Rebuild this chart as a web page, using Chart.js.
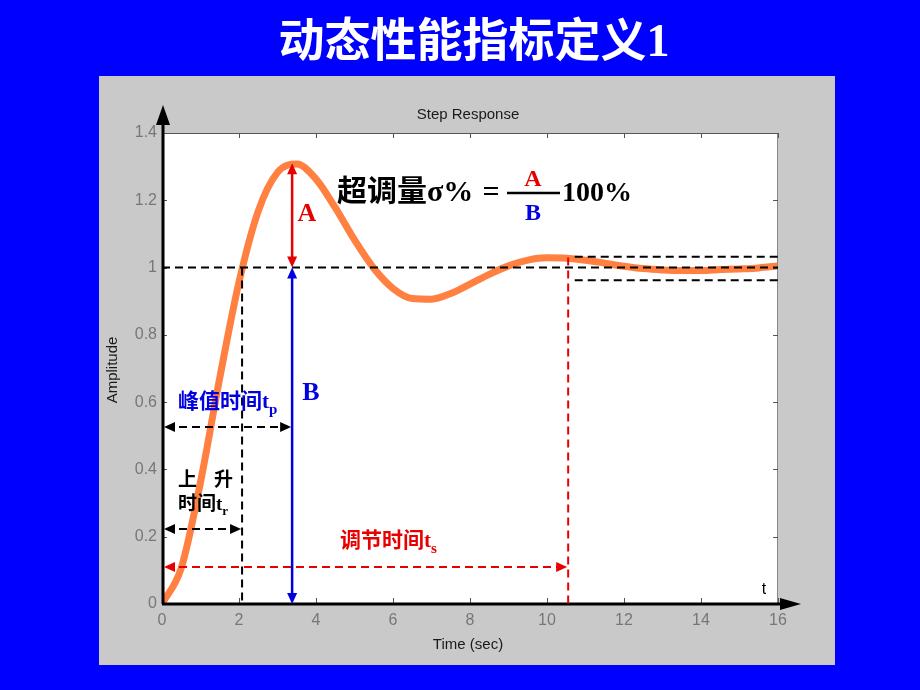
<!DOCTYPE html>
<html>
<head>
<meta charset="utf-8">
<script src="https://cdn.jsdelivr.net/npm/chart.js@4.4.1/dist/chart.umd.min.js"></script>
<style>
html, body { margin: 0; padding: 0; background: #0000ff; }
#wrap { width: 920px; height: 690px; }
</style>
</head>
<body>
<div id="wrap"><canvas id="stepChart" width="920" height="690"></canvas></div>
<script>
// step response
const times = [0, 0.5, 1, 1.5, 2, 2.5, 3, 3.5, 4, 4.5, 5, 5.5, 6, 6.5, 7, 7.5, 8, 8.5,
    9, 9.5, 10, 10.5, 11, 11.5, 12, 12.5, 13, 13.5, 14, 14.5, 15, 15.5, 16];
const amplitude = [0, 0.107, 0.362, 0.672, 0.957, 1.168, 1.283, 1.308, 1.263, 1.178,
    1.082, 0.998, 0.938, 0.908, 0.906, 0.923, 0.951, 0.980, 1.005, 1.022, 1.029,
    1.028, 1.022, 1.013, 1.004, 0.997, 0.993, 0.991, 0.991, 0.994, 0.996, 0.999, 1.005];

const xTicks = [0, 2, 4, 6, 8, 10, 12, 14, 16];
const yTicks = [0, 0.2, 0.4, 0.6, 0.8, 1, 1.2, 1.4];
const yTickLabels = ['0', '0.2', '0.4', '0.6', '0.8', '1', '1.2', '1.4'];

// marked times / levels
const riseTime = 2.08;
const peakTime = 3.38;
const peakValue = 1.31;
const settleTime = 10.55;
const bandHigh = 1.032;
const bandLow = 0.962;

const SERIF = '"Liberation Serif", "Noto Sans CJK SC", serif';
const SANS = 'Arial, "Liberation Sans", sans-serif';

function arrowHead(ctx, x, y, dir, color) {
    // dir: 'up' | 'down' | 'left' | 'right'
    const L = 11, W = 5;
    ctx.save();
    ctx.fillStyle = color;
    ctx.setLineDash([]);
    ctx.beginPath();
    ctx.moveTo(x, y);
    if (dir === 'up') { ctx.lineTo(x - W, y + L); ctx.lineTo(x + W, y + L); }
    if (dir === 'down') { ctx.lineTo(x - W, y - L); ctx.lineTo(x + W, y - L); }
    if (dir === 'left') { ctx.lineTo(x + L, y - W); ctx.lineTo(x + L, y + W); }
    if (dir === 'right') { ctx.lineTo(x - L, y - W); ctx.lineTo(x - L, y + W); }
    ctx.closePath();
    ctx.fill();
    ctx.restore();
}

function line(ctx, x0, y0, x1, y1, color, width, dash) {
    ctx.save();
    ctx.strokeStyle = color;
    ctx.lineWidth = width;
    ctx.setLineDash(dash || []);
    ctx.beginPath();
    ctx.moveTo(x0, y0);
    ctx.lineTo(x1, y1);
    ctx.stroke();
    ctx.restore();
}

function subText(ctx, main, sub, x, y, size, color) {
    ctx.save();
    ctx.fillStyle = color;
    ctx.textAlign = 'left';
    ctx.textBaseline = 'middle';
    ctx.font = 'bold ' + size + 'px ' + SERIF;
    ctx.fillText(main, x, y);
    const w = ctx.measureText(main).width;
    ctx.font = 'bold ' + Math.round(size * 0.7) + 'px ' + SERIF;
    ctx.fillText(sub, x + w, y + size * 0.35);
    ctx.restore();
}

const slide = {
    id: 'slide',
    beforeDraw(chart) {
        const ctx = chart.ctx;
        const a = chart.chartArea;
        ctx.save();
        ctx.fillStyle = '#0000ff';
        ctx.fillRect(0, 0, chart.width, chart.height);
        ctx.fillStyle = '#c9c9c9';
        ctx.fillRect(99, 76, 736, 589);
        ctx.fillStyle = '#ffffff';
        ctx.fillRect(a.left, a.top, a.right - a.left, a.bottom - a.top);

        ctx.fillStyle = '#ffffff';
        ctx.textAlign = 'center';
        ctx.textBaseline = 'middle';
        ctx.font = 'bold 46px ' + SERIF;
        ctx.fillText('动态性能指标定义1', 474, 44);

        ctx.fillStyle = '#1a1a1a';
        ctx.font = '15px ' + SANS;
        ctx.fillText('Step Response', 468, 115);
        ctx.fillText('Time (sec)', 468, 645);
        ctx.save();
        ctx.translate(113, 370);
        ctx.rotate(-Math.PI / 2);
        ctx.fillText('Amplitude', 0, 0);
        ctx.restore();
        ctx.restore();
    },
    afterDatasetsDraw(chart) {
        const ctx = chart.ctx;
        const a = chart.chartArea;
        const xs = chart.scales.x, ys = chart.scales.y;
        const px = v => xs.getPixelForValue(v);
        const py = v => ys.getPixelForValue(v);

        // box and inward ticks
        line(ctx, a.left, a.top + 0.5, a.right, a.top + 0.5, '#555', 1);
        line(ctx, a.right - 0.5, a.top, a.right - 0.5, a.bottom, '#888', 1);
        xTicks.forEach(v => {
            const x = Math.round(px(v)) + 0.5;
            line(ctx, x, a.top, x, a.top + 5, '#555', 1);
            line(ctx, x, a.bottom, x, a.bottom - 6, '#555', 1);
        });
        yTicks.forEach(v => {
            const y = Math.round(py(v)) + 0.5;
            line(ctx, a.left, y, a.left + 5, y, '#555', 1);
            line(ctx, a.right, y, a.right - 5, y, '#555', 1);
        });

        // axes with arrows
        line(ctx, a.left + 1, a.bottom, a.left + 1, 118, '#000', 3);
        ctx.save();
        ctx.fillStyle = '#000';
        ctx.beginPath();
        ctx.moveTo(a.left + 1, 105);
        ctx.lineTo(a.left - 6, 125);
        ctx.lineTo(a.left + 8, 125);
        ctx.closePath();
        ctx.fill();
        ctx.restore();
        line(ctx, a.left, a.bottom, 790, a.bottom, '#000', 3);
        ctx.save();
        ctx.fillStyle = '#000';
        ctx.beginPath();
        ctx.moveTo(801, a.bottom);
        ctx.lineTo(780, a.bottom - 6);
        ctx.lineTo(780, a.bottom + 6);
        ctx.closePath();
        ctx.fill();
        ctx.restore();

        const dash = [8, 5];
        const x0 = px(0), xr = px(riseTime), xp = px(peakTime), xs2 = px(settleTime);
        const y0 = py(0), y1 = py(1);

        // steady value and settling band
        line(ctx, x0, y1, a.right, y1, '#000', 2, dash);
        line(ctx, px(10.72), py(bandHigh), a.right + 3, py(bandHigh), '#000', 2, dash);
        line(ctx, px(10.72), py(bandLow), a.right + 3, py(bandLow), '#000', 2, dash);

        // rise time
        line(ctx, xr, y1, xr, y0, '#000', 2, dash);
        const yRise = py(0.223);
        line(ctx, x0 + 4, yRise, xr - 4, yRise, '#000', 2, dash);
        arrowHead(ctx, x0 + 2, yRise, 'left', '#000');
        arrowHead(ctx, xr - 1, yRise, 'right', '#000');

        // peak time
        const yPeak = py(0.526);
        line(ctx, x0 + 4, yPeak, xp - 4, yPeak, '#000', 2, dash);
        arrowHead(ctx, x0 + 2, yPeak, 'left', '#000');
        arrowHead(ctx, xp - 1, yPeak, 'right', '#000');

        // settling time
        line(ctx, xs2, py(1.03), xs2, y0, '#e80000', 2, dash);
        const ySet = py(0.11);
        line(ctx, x0 + 4, ySet, xs2 - 4, ySet, '#e80000', 2, dash);
        arrowHead(ctx, x0 + 2, ySet, 'left', '#e80000');
        arrowHead(ctx, xs2 - 1, ySet, 'right', '#e80000');

        // A and B arrows
        const yTop = py(peakValue);
        line(ctx, xp, yTop + 8, xp, y1 - 8, '#e80000', 2.5);
        arrowHead(ctx, xp, yTop, 'up', '#e80000');
        arrowHead(ctx, xp, y1, 'down', '#e80000');
        line(ctx, xp, y1 + 8, xp, y0 - 8, '#0000e0', 2.5);
        arrowHead(ctx, xp, y1, 'up', '#0000e0');
        arrowHead(ctx, xp, y0, 'down', '#0000e0');

        ctx.save();
        ctx.textAlign = 'center';
        ctx.textBaseline = 'middle';
        ctx.font = 'bold 26px ' + SERIF;
        ctx.fillStyle = '#e80000';
        ctx.fillText('A', 307, 214);
        ctx.fillStyle = '#0000e0';
        ctx.fillText('B', 311, 393);
        ctx.restore();

        // labels
        subText(ctx, '峰值时间t', 'p', 178, 403, 21, '#0000e0');
        ctx.save();
        ctx.fillStyle = '#000';
        ctx.textAlign = 'left';
        ctx.textBaseline = 'middle';
        ctx.font = 'bold 19px ' + SERIF;
        ctx.fillText('上', 178, 481);
        ctx.fillText('升', 214, 481);
        ctx.restore();
        subText(ctx, '时间t', 'r', 178, 505, 19, '#000');
        subText(ctx, '调节时间t', 's', 340, 542, 21, '#e80000');

        // overshoot formula
        ctx.save();
        ctx.textBaseline = 'middle';
        ctx.textAlign = 'left';
        ctx.fillStyle = '#000';
        ctx.font = 'bold 30px ' + SERIF;
        ctx.fillText('超调量σ%', 337, 193);
        ctx.textAlign = 'center';
        ctx.fillText('=', 491, 193);
        line(ctx, 507, 193, 560, 193, '#000', 2.5);
        ctx.textAlign = 'left';
        ctx.font = 'bold 28px ' + SERIF;
        ctx.fillText('100%', 562, 194);
        ctx.textAlign = 'center';
        ctx.font = 'bold 24px ' + SERIF;
        ctx.fillStyle = '#e80000';
        ctx.fillText('A', 533, 180);
        ctx.fillStyle = '#0000e0';
        ctx.fillText('B', 533, 214);

        ctx.fillStyle = '#000';
        ctx.font = '16px ' + SANS;
        ctx.fillText('t', 764, 590);
        ctx.restore();
    }
};

const points = times.map((t, i) => ({ x: t, y: amplitude[i] }));

new Chart(document.getElementById('stepChart'), {
    type: 'line',
    data: {
        datasets: [{
            data: points,
            borderColor: 'rgb(255, 128, 64)',
            borderWidth: 7,
            pointRadius: 0,
            cubicInterpolationMode: 'monotone',
            fill: false
        }]
    },
    options: {
        responsive: false,
        animation: false,
        devicePixelRatio: 1,
        layout: { padding: { left: 100, right: 142, top: 133, bottom: 25 } },
        plugins: {
            legend: { display: false },
            tooltip: { enabled: false },
            title: { display: false }
        },
        scales: {
            x: {
                type: 'linear',
                min: 0,
                max: 16,
                afterBuildTicks: scale => { scale.ticks = xTicks.map(v => ({ value: v })); },
                afterFit: scale => { scale.height = 61; },
                grid: { display: false, drawTicks: false, tickLength: 0 },
                border: { display: false },
                ticks: {
                    color: '#777',
                    padding: 7,
                    maxRotation: 0,
                    font: { family: SANS, size: 16 },
                    callback: v => String(v)
                }
            },
            y: {
                type: 'linear',
                min: 0,
                max: 1.4,
                afterBuildTicks: scale => { scale.ticks = yTicks.map(v => ({ value: v })); },
                afterFit: scale => { scale.width = 62; },
                grid: { display: false, drawTicks: false, tickLength: 0 },
                border: { display: false },
                ticks: {
                    color: '#777',
                    padding: 5,
                    font: { family: SANS, size: 16 },
                    callback: (v, i) => yTickLabels[i]
                }
            }
        }
    },
    plugins: [slide]
});
</script>
</body>
</html>
